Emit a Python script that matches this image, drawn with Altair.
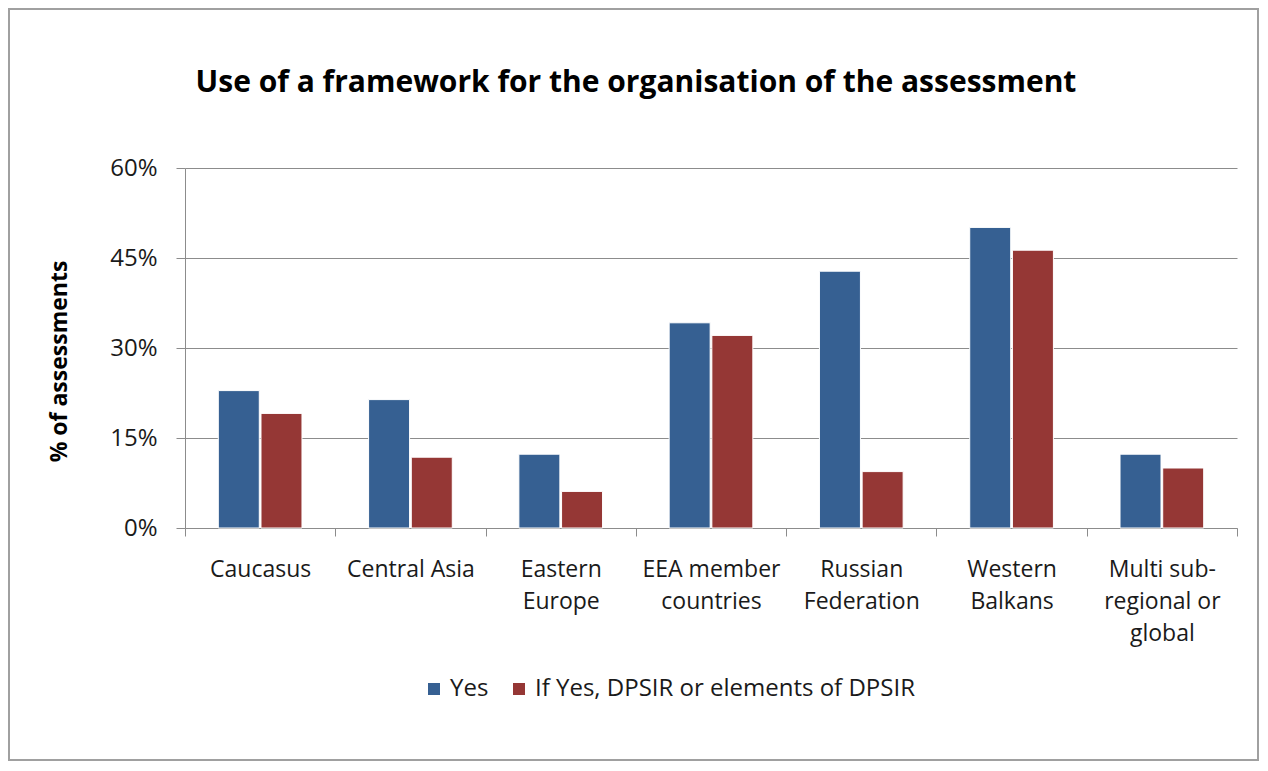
import altair as alt
import pandas as pd

categories = ["Caucasus", "Central Asia", "Eastern|Europe", "EEA member|countries",
              "Russian|Federation", "Western|Balkans", "Multi sub-|regional or|global"]
series = ["Yes", "If Yes, DPSIR or elements of DPSIR"]
yes_vals = [22.9, 21.4, 12.3, 34.2, 42.8, 50.1, 12.3]
dpsir_vals = [19.1, 11.8, 6.1, 32.1, 9.4, 46.3, 10.0]
y_ticks = [0, 15, 30, 45, 60]
colors = ["#366092", "#953735"]

rows = []
for c, a, b in zip(categories, yes_vals, dpsir_vals):
    rows.append({"cat": c, "series": series[0], "value": a})
    rows.append({"cat": c, "series": series[1], "value": b})
df = pd.DataFrame(rows)

FONT = "Open Sans"
W, H = 1052, 360
PL, PT, PR, PB = 177, 160, 22, 233

bars = alt.Chart(df).mark_bar(stroke="white", strokeWidth=1).encode(
    x=alt.X("cat:N", sort=categories, title=None,
            scale=alt.Scale(paddingInner=0, paddingOuter=0),
            axis=alt.Axis(labelExpr="split(datum.label, '|')", labelAngle=0,
                          tickBand="extent", tickSize=8, tickColor="#8c8c8c",
                          domainColor="#8c8c8c", labelFont=FONT, labelFontSize=23,
                          labelColor="#1a1a1a", labelPadding=22, labelLineHeight=32,
                          labelBaseline="top", labelLimit=0)),
    xOffset=alt.XOffset("series:N", sort=series,
                        scale=alt.Scale(paddingInner=0.04, paddingOuter=0.78)),
    y=alt.Y("value:Q", title="% of assessments",
            scale=alt.Scale(domain=[0, 60], nice=False),
            axis=alt.Axis(values=y_ticks, labelExpr="datum.value + '%'",
                          tickSize=9, tickColor="#8c8c8c", domainColor="#8c8c8c",
                          gridColor="#8c8c8c", gridWidth=1, labelFont=FONT,
                          labelFontSize=24, labelColor="#1a1a1a", labelPadding=19,
                          titleFont=FONT, titleFontSize=23, titleFontWeight="bold",
                          titleColor="#000000", titlePadding=38, titleY=193)),
    color=alt.Color("series:N", sort=series, title=None,
                    scale=alt.Scale(domain=series, range=colors),
                    legend=alt.Legend(orient="none", legendX=237, legendY=509,
                                      direction="horizontal", symbolType="square",
                                      symbolSize=144, symbolStrokeWidth=0,
                                      labelFont=FONT, labelFontSize=24,
                                      labelColor="#1a1a1a", columnPadding=18,
                                      symbolOffset=0, labelOffset=4, labelLimit=800)),
)

frame = alt.Chart(pd.DataFrame({"k": [0]})).mark_rect(
    fill=None, stroke="#a0a0a0", strokeWidth=2, clip=False
).encode(
    x=alt.value(-PL + 1), x2=alt.value(W + PR - 1),
    y=alt.value(-PT + 1), y2=alt.value(H + PB - 1),
)

chart = alt.layer(frame, bars).properties(
    width=W, height=H,
    autosize=alt.AutoSizeParams(type="none"),
    padding={"left": PL, "top": PT, "right": PR, "bottom": PB},
    title=alt.Title("Use of a framework for the organisation of the assessment",
                    font=FONT, fontSize=30, fontWeight="bold", color="#000000",
                    anchor="middle", dx=-75, offset=-90),
).configure_view(stroke=None).configure_axis(grid=False).configure_axisY(grid=True)

chart.save("out.html", embed_options={"renderer": "svg", "actions": False})
